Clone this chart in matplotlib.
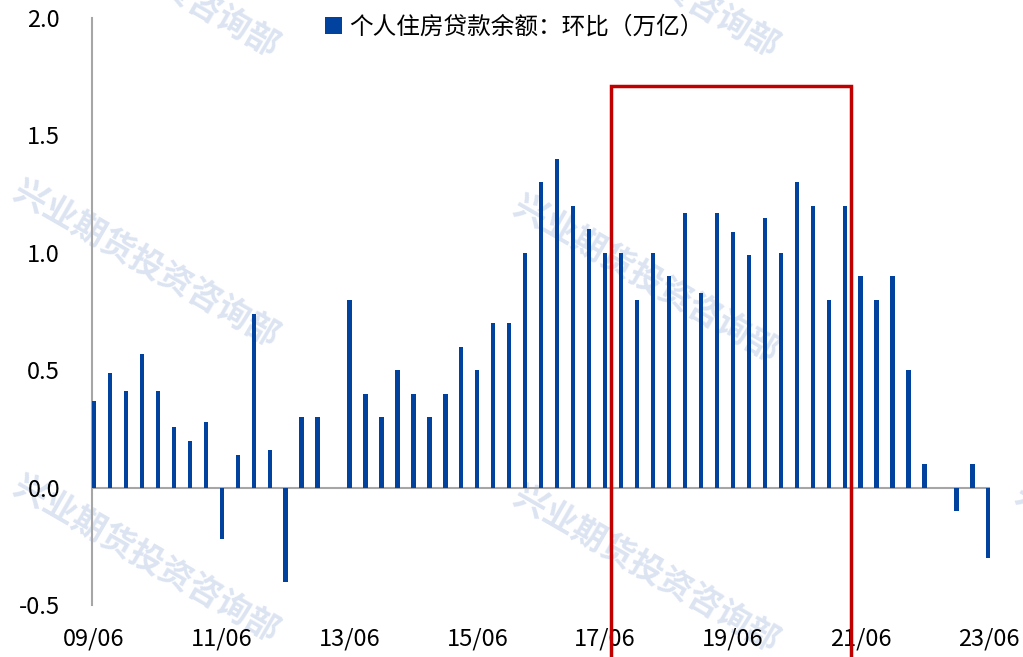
import matplotlib
matplotlib.use("Agg")
import matplotlib.pyplot as plt
from matplotlib.patches import Rectangle

plt.rcParams['font.family'] = ['Noto Sans CJK SC', 'DejaVu Sans']

values = [0.37, 0.49, 0.41, 0.57, 0.41, 0.26, 0.20, 0.28,
          -0.22, 0.14, 0.74, 0.16, -0.40, 0.30, 0.30, 0.00,
          0.80, 0.40, 0.30, 0.50, 0.40, 0.30, 0.40, 0.60,
          0.50, 0.70, 0.70, 1.00, 1.30, 1.40, 1.20, 1.10,
          1.00, 1.00, 0.80, 1.00, 0.90, 1.17, 0.83, 1.17,
          1.09, 0.99, 1.15, 1.00, 1.30, 1.20, 0.80, 1.20,
          0.90, 0.80, 0.90, 0.50, 0.10, 0.00, -0.10, 0.10,
          -0.30]
tick_labels = ["09/06", "11/06", "13/06", "15/06", "17/06", "19/06", "21/06", "23/06"]
tick_step = 8
series_name = "个人住房贷款余额：环比（万亿）"
watermark = "兴业期货投资咨询部"

bar_color = "#00429D"
W, H = 1023, 657
fig = plt.figure(figsize=(W / 100, H / 100), dpi=100)
ax = fig.add_axes([92 / W, 1 - 605 / H, (990 - 92) / W, (605 - 18) / H])
ax.set_zorder(1)

# watermarks (figure pixel centres), behind the axes
wm_centres = [(145, -25), (645, -25), (145, 265), (645, 280),
              (145, 560), (645, 570), (1147, 568)]
for cx, cy in wm_centres:
    fig.text(cx / W, 1 - cy / H, watermark, rotation=-30, fontsize=24,
             fontweight='bold', color="#DCE4F2", ha='center', va='center',
             zorder=0)

x = list(range(len(values)))
ax.bar(x, values, width=0.27, color=bar_color, zorder=3, label=series_name)
ax.patch.set_alpha(0)

ax.set_xlim(-0.125, 56.1)
ax.set_ylim(-0.5, 2.0)
ax.set_yticks([-0.5, 0.0, 0.5, 1.0, 1.5, 2.0])
ax.set_yticklabels(["-0.5", "0.0", "0.5", "1.0", "1.5", "2.0"])
ax.set_xticks(list(range(0, len(values), tick_step)))
ax.set_xticklabels(tick_labels)
ax.tick_params(axis='both', length=0, labelsize=17, colors='#000000')
ax.tick_params(axis='y', pad=23)
ax.tick_params(axis='x', pad=16)

for s in ['top', 'right', 'bottom']:
    ax.spines[s].set_visible(False)
ax.spines['left'].set_color('#A6A6A6')
ax.spines['left'].set_linewidth(1.5)
ax.axhline(0, color='#A6A6A6', lw=1.5, zorder=2)

# red highlight box (runs past the bottom edge of the figure)
rect = Rectangle((32.375, -0.9), 47.375 - 32.375, 1.712 + 0.9, fill=False,
                 edgecolor='#C00000', lw=2.5, clip_on=False, zorder=5)
ax.add_patch(rect)

leg = ax.legend(loc='upper center', bbox_to_anchor=(0.47, 1.04), frameon=False,
                fontsize=17, handlelength=0.7, handleheight=0.7, handletextpad=0.3)

fig.savefig("out.png", dpi=100)
